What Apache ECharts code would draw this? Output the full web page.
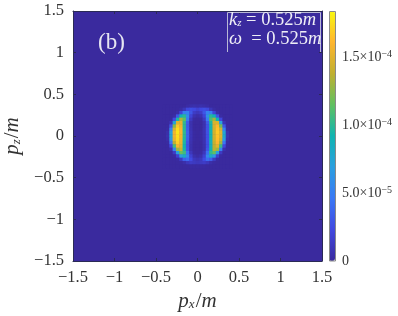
<!DOCTYPE html>
<html><head><meta charset="utf-8">
<style>html,body{margin:0;padding:0;background:#fff}#c{width:398px;height:316px}</style>
<script src="https://cdn.jsdelivr.net/npm/echarts@6/dist/echarts.min.js"></script>
</head><body><div id="c"></div>
<script>
const pxTicks = [-1.5,-1,-0.5,0,0.5,1,1.5];
const pzTicks = [-1.5,-1,-0.5,0,0.5,1,1.5];
const barTicks = {0:'0', 5:'5.0', 10:'1.0', 15:'1.5'};
const barExp = {5:'−5', 10:'−4', 15:'−4'};
const pxCells = [-0.40,-0.36,-0.32,-0.28,-0.24,-0.20,-0.16,-0.12,-0.08,-0.04,0,0.04,0.08,0.12,0.16,0.20,0.24,0.28,0.32,0.36,0.40];
const pzCells = [0.36,0.32,0.28,0.24,0.20,0.16,0.12,0.08,0.04,0,-0.04,-0.08,-0.12,-0.16,-0.20,-0.24,-0.28,-0.32,-0.36];
// intensity in units of 1e-5, one row per pz (top to bottom)
const r1  = [0,0,0,0,0,0,0,0.2,0.4,0.5,0.4,0.5,0.4,0.2,0,0,0,0,0,0,0];
const r2  = [0,0,0,0,0,0.2,0.9,2.2,2.6,2.3,1.8,2.3,2.6,2.2,0.9,0.2,0,0,0,0,0];
const r3  = [0,0,0,0,0.2,2.0,5.0,5.2,3.0,1.4,1.0,1.4,3.0,5.2,5.0,2.0,0.2,0,0,0,0];
const r4  = [0,0,0,0.2,3.0,9.0,10.0,6.0,2.0,0.6,0.3,0.6,2.0,6.0,10.0,9.0,3.0,0.2,0,0,0];
const r5  = [0,0,0,2.4,9.5,13.5,11.5,5.0,1.2,0.1,0,0.1,1.2,4.8,11.0,13.2,9.2,2.2,0,0,0];
const r6  = [0,0,0.8,7.5,15.0,15.2,10.2,3.4,0.6,0,0,0,0.6,3.2,9.6,14.6,14.8,7.0,0.8,0,0];
const r7  = [0,0,3.0,12.5,16.8,15.6,10.0,3.2,0.6,0,0,0,0.6,2.8,9.0,14.6,16.2,12.0,3.0,0,0];
const r8  = [0,0.1,5.5,14.8,17.6,16.0,10.0,3.4,0.7,0,0,0,0.7,2.8,9.0,14.4,16.6,14.5,5.5,0.1,0];
const r9  = [0,0.4,7.0,15.6,17.8,16.0,10.2,3.6,0.8,0.1,0,0.1,0.7,2.8,9.0,14.4,16.8,15.0,7.5,0.5,0];
const r10 = [0,0.5,7.5,15.6,17.6,15.8,10.0,3.6,0.8,0.1,0,0.1,0.7,2.7,9.0,14.4,16.6,15.0,8.0,0.6,0];
const r11 = [0,0.3,6.5,15.2,17.4,15.6,9.8,3.4,0.7,0.1,0,0.1,0.6,2.7,8.8,14.2,16.4,14.5,6.8,0.3,0];
const r12 = [0,0.1,4.5,13.8,17.0,15.4,9.6,3.0,0.6,0,0,0,0.6,2.6,8.6,14.0,16.0,13.2,4.5,0.1,0];
const r13 = [0,0,2.2,10.8,15.8,15.0,9.2,2.8,0.5,0,0,0,0.5,2.6,8.6,13.8,15.0,10.5,2.2,0,0];
const r14 = [0,0,0.5,5.4,13.0,14.2,9.6,3.0,0.5,0,0,0,0.5,3.0,9.0,13.6,13.0,5.2,0.5,0,0];
const r15 = [0,0,0,1.4,7.0,11.8,10.6,4.4,1.0,0.1,0,0.1,1.0,4.2,10.2,11.6,6.8,1.3,0,0,0];
const r16 = [0,0,0,0.1,1.8,6.6,8.4,5.4,1.8,0.5,0.2,0.5,1.8,5.4,8.2,6.4,1.7,0.1,0,0,0];
const r17 = [0,0,0,0,0.1,1.2,3.4,4.0,2.4,1.1,0.8,1.1,2.4,4.0,3.4,1.2,0.1,0,0,0,0];
const r18 = [0,0,0,0,0,0.1,0.4,1.0,1.4,1.2,1.0,1.2,1.4,1.0,0.4,0.1,0,0,0,0,0];
const r19 = [0,0,0,0,0,0,0,0,0.1,0.1,0.1,0.1,0.1,0,0,0,0,0,0,0,0];
const rows = [r1,r2,r3,r4,r5,r6,r7,r8,r9,r10,r11,r12,r13,r14,r15,r16,r17,r18,r19];
const barMax = 18.45;
const parula = ['#3a2a9e','#4048e0','#3a78f5','#2a9fe0','#10b4b0','#60c060','#c0b030','#ffb52e','#f8f80f'];

const cells = [];
rows.forEach((row,j)=>row.forEach((v,i)=>cells.push([pxCells[i],pzCells[j],v])));

const serif = '"Liberation Serif","DejaVu Serif",serif';
const ink = '#333';
const fmt = v => { const s=String(Math.abs(v)); return (v<0?'−':'')+s; };
const axisBase = {
  type:'value', min:-1.5, max:1.5, interval:0.5, gridIndex:0,
  axisLine:{show:true,onZero:false,lineStyle:{color:'#2a2a55',width:1}},
  axisTick:{show:true,inside:true,length:3,lineStyle:{color:'#2a2a55',width:1}},
  splitLine:{show:false}
};
const lab = {fontFamily:serif,fontSize:16.5,color:ink};
const nameRich = {
  a:{fontFamily:serif,fontSize:21,fontStyle:'italic',color:ink},
  n:{fontFamily:serif,fontSize:21,color:ink},
  s:{fontFamily:serif,fontSize:13,fontStyle:'italic',color:ink,padding:[7,1,0,0]}
};
const chart = echarts.init(document.getElementById('c'),null,{renderer:'canvas'});
chart.setOption({
  animation:false,
  backgroundColor:'#fff',
  grid:[
    {left:73,top:11,width:249,height:250,show:true,backgroundColor:parula[0],borderWidth:0,outerBoundsMode:'none'},
    {left:329,top:11,width:6,height:250,show:false,outerBoundsMode:'none'}
  ],
  xAxis:[
    Object.assign({},axisBase,{position:'bottom',
      axisLabel:Object.assign({},lab,{margin:8,formatter:fmt,customValues:pxTicks}),
      name:'{a|p}{s|x}{n|/}{a|m}',nameLocation:'middle',nameGap:30,nameTextStyle:{rich:nameRich}}),
    Object.assign({},axisBase,{position:'top',axisLabel:{show:false}}),
    {type:'value',gridIndex:1,show:false,min:0,max:1}
  ],
  yAxis:[
    Object.assign({},axisBase,{position:'left',
      axisLabel:Object.assign({},lab,{margin:9,formatter:fmt,customValues:pzTicks}),
      name:'{a|p}{s|z}{n|/}{a|m}',nameLocation:'middle',nameGap:44,nameRotate:90,nameTextStyle:{rich:nameRich}}),
    Object.assign({},axisBase,{position:'right',axisLabel:{show:false}}),
    {type:'value',gridIndex:1,position:'right',min:0,max:barMax,interval:5,
      axisLine:{show:false},axisTick:{show:false},splitLine:{show:false},
      axisLabel:{show:true,margin:7,formatter:v=>{
        if(!(v in barTicks))return '';
        return v===0?'{m|0}':'{m|'+barTicks[v]+'×10}{e|'+barExp[v]+'}';
      },rich:{
        m:{fontFamily:serif,fontSize:14,color:ink},
        e:{fontFamily:serif,fontSize:10,color:ink,padding:[0,0,6,0]}
      }}}
  ],
  visualMap:{
    type:'continuous',seriesIndex:0,dimension:2,min:0,max:barMax,
    left:329,top:11,itemWidth:6,itemHeight:250,padding:0,
    calculable:false,realtime:false,text:null,showLabel:false,
    borderWidth:0,
    textStyle:{fontSize:0,color:'transparent'},
    inRange:{color:parula}
  },
  series:[{
    type:'custom',xAxisIndex:0,yAxisIndex:0,coordinateSystem:'cartesian2d',
    data:cells,encode:{x:0,y:1},silent:true,clip:true,
    renderItem:(p,api)=>{
      const a=api.coord([api.value(0)-0.02,api.value(1)+0.02]);
      const b=api.coord([api.value(0)+0.02,api.value(1)-0.02]);
      return {type:'rect',shape:{x:a[0],y:a[1],width:b[0]-a[0]+0.5,height:b[1]-a[1]+0.5},
        style:{fill:api.visual('color')}};
    }
  }],
  graphic:[
    {type:'text',left:98,top:31,z:10,style:{text:'(b)',fontFamily:serif,fontSize:23,fill:'#e6e6f2'}},
    {type:'rect',z:10,shape:{x:329.5,y:11.5,width:6,height:249.5},style:{stroke:'#8a8a8a',lineWidth:1,fill:null}},
    {type:'polyline',z:10,shape:{points:[[227.5,52],[227.5,12.5],[320.5,12.5],[320.5,52]]},
      style:{stroke:'#b9b9d6',lineWidth:1,fill:null}},
    {type:'text',left:229,top:11,z:10,style:{
      text:'{a|k}{s|z}{n| = 0.525}{a|m}',
      rich:{a:{fontFamily:serif,fontSize:18.5,fontStyle:'italic',fill:'#eeeef6'},
            n:{fontFamily:serif,fontSize:18.5,fill:'#eeeef6'},
            s:{fontFamily:serif,fontSize:11,fontStyle:'italic',fill:'#eeeef6',padding:[5,0,0,0]}}}},
    {type:'text',left:229,top:30,z:10,style:{
      text:'{a|ω}{n|  = 0.525}{a|m}',
      rich:{a:{fontFamily:serif,fontSize:18.5,fontStyle:'italic',fill:'#eeeef6'},
            n:{fontFamily:serif,fontSize:18.5,fill:'#eeeef6'}}}}
  ]
});
</script></body></html>
